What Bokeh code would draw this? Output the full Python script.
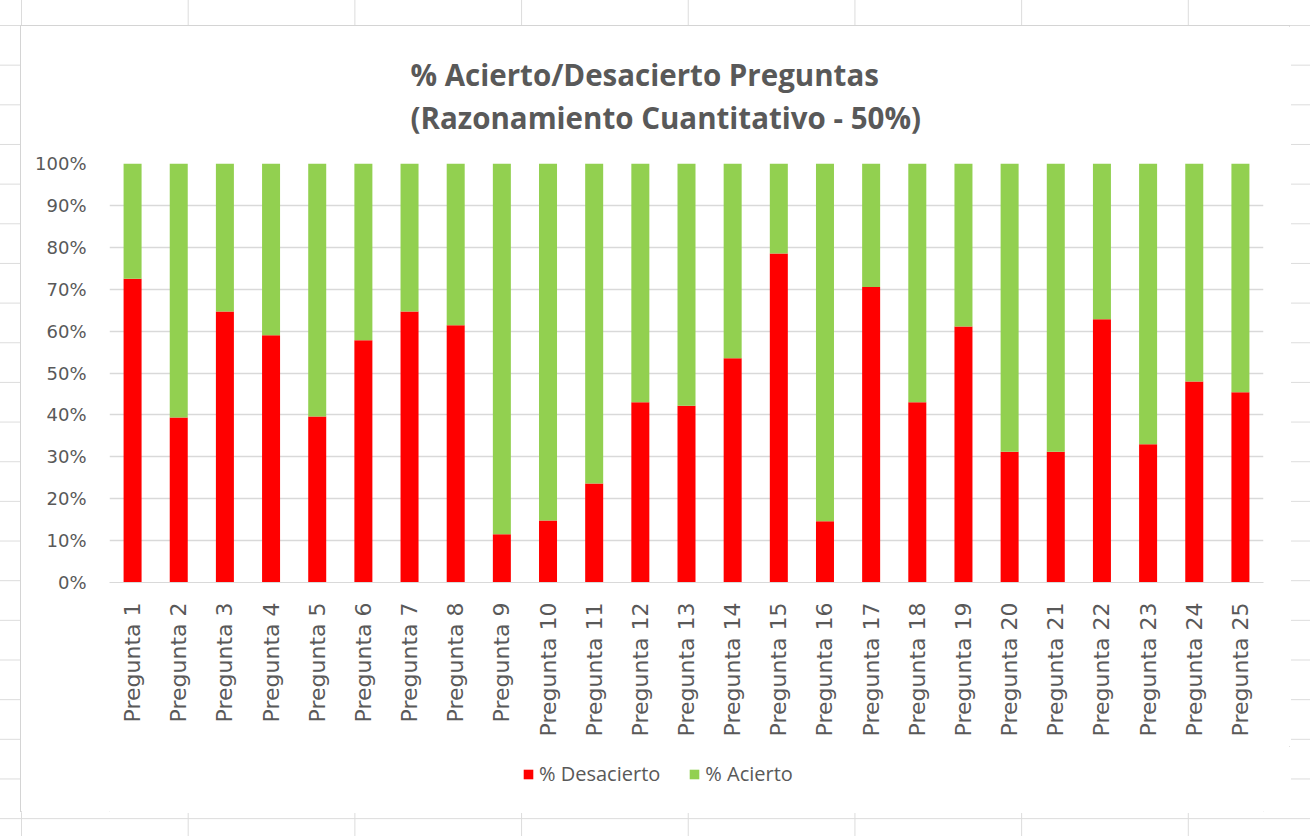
from bokeh.plotting import figure
from bokeh.models import (FactorRange, Range1d, Legend, LegendItem, Title,
                          PrintfTickFormatter, SingleIntervalTicker, Column)
from bokeh.embed import file_html
from bokeh.resources import INLINE
import math

categories = ["Pregunta %d" % i for i in range(1, 26)]
desacierto = [72.5, 39.4, 64.7, 59.0, 39.6, 57.8, 64.7, 61.4, 11.5, 14.8,
              23.6, 43.0, 42.2, 53.5, 78.5, 14.6, 70.5, 43.0, 61.1, 31.2,
              31.2, 62.8, 33.0, 48.0, 45.4]
acierto = [27.5, 60.6, 35.3, 41.0, 60.4, 42.2, 35.3, 38.6, 88.5, 85.2,
           76.4, 57.0, 57.8, 46.5, 21.5, 85.4, 29.5, 57.0, 38.9, 68.8,
           68.8, 37.2, 67.0, 52.0, 54.6]
series_names = ["% Desacierto", "% Acierto"]
colors = ["#FF0000", "#92D050"]

data = {"cat": categories, "des": desacierto, "aci": acierto}

TXT = "#595959"

p = figure(x_range=FactorRange(factors=categories, range_padding=0),
           y_range=Range1d(0, 100), width=1270, height=720,
           output_backend="svg", toolbar_location=None, title=None,
           min_border_left=88, min_border_right=28, min_border_top=137,
           min_border_bottom=164, sizing_mode="fixed")

rs = p.vbar_stack(["des", "aci"], x="cat", width=0.39, color=colors,
                  line_color=None, source=data)

p.add_layout(Title(text="% Acierto/Desacierto Preguntas\n(Razonamiento Cuantitativo - 50%)",
                   align="left", text_font="Open Sans", text_font_size="29.5px",
                   text_font_style="bold", text_color=TXT, standoff=51,
                   offset=301, text_line_height=1.05), "above")

p.yaxis.ticker = SingleIntervalTicker(interval=10)
p.yaxis.formatter = PrintfTickFormatter(format="%d%%")
p.yaxis.major_label_text_font = "DejaVu Sans"
p.yaxis.major_label_text_font_size = "18px"
p.yaxis.major_label_text_color = TXT
p.yaxis.major_label_standoff = 17
p.yaxis.axis_line_color = None
p.yaxis.major_tick_line_color = None
p.yaxis.minor_tick_line_color = None

p.xaxis.major_label_orientation = math.pi / 2
p.xaxis.major_label_text_font = "DejaVu Sans"
p.xaxis.major_label_text_font_size = "22px"
p.xaxis.major_label_text_color = TXT
p.xaxis.major_label_standoff = 14
p.xaxis.axis_line_color = "#d9d9d9"
p.xaxis.major_tick_line_color = None
p.xaxis.minor_tick_line_color = None

p.xgrid.grid_line_color = None
p.ygrid.grid_line_color = "#d9d9d9"
p.ygrid.grid_line_width = 1.5
p.outline_line_color = None

# legend strip (second figure inside the same chart box); its bars lie far outside its view
lg = figure(x_range=FactorRange(factors=categories), y_range=Range1d(1000, 1100),
            width=1270, height=67, output_backend="svg", toolbar_location=None,
            x_axis_type=None, y_axis_type=None, min_border=0, sizing_mode="fixed")
lg.outline_line_color = None
lg.xgrid.grid_line_color = None
lg.ygrid.grid_line_color = None
lr = lg.vbar_stack(["des", "aci"], x="cat", width=0.39, color=colors,
                   line_color=None, source=data)
legend = Legend(items=[LegendItem(label=series_names[i], renderers=[lr[i]]) for i in range(2)],
                orientation="horizontal", location=(413, 26),
                label_text_font="Open Sans", label_text_font_size="20px",
                label_text_color=TXT, glyph_width=12, glyph_height=12,
                label_standoff=5, spacing=28, border_line_color=None,
                background_fill_alpha=0, margin=0, padding=0)
lg.add_layout(legend, "center")

box = Column(p, lg, width=1270, height=787, sizing_mode="fixed", spacing=0, styles={
    "border": "1px solid #d4d4d4",
    "background-color": "#ffffff",
})

page = Column(box, width=1310, height=836, sizing_mode="fixed", styles={
    "background-color": "#ffffff",
    "background-image": "linear-gradient(to right, #dcdcdc 1px, transparent 1px), linear-gradient(to bottom, #dcdcdc 1px, transparent 1px)",
    "background-size": "166.7px 39.67px",
    "background-position": "21px 25px",
    "padding": "25px 0px 0px 20px",
    "box-sizing": "border-box",
})

open("out.html", "w").write(file_html(page, INLINE))
